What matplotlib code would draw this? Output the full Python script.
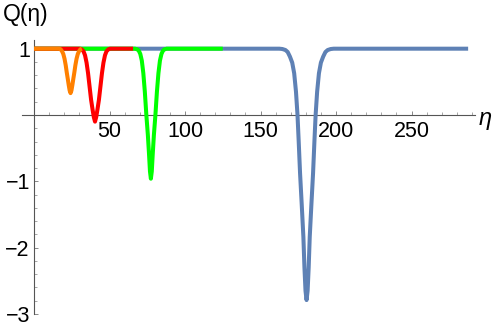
import matplotlib
matplotlib.use("Agg")
import matplotlib.pyplot as plt
from matplotlib.ticker import FixedLocator

plt.rcParams['font.family'] = ['Liberation Sans', 'DejaVu Sans']

# ---- data ----
eta_blue = [0, 162.5, 164.5, 166.5, 168.0, 169.5, 171.0, 172.3, 173.5, 174.5, 175.3, 176.2,
            177.3, 178.4, 179.1, 179.8, 180.5, 181.2, 181.9, 182.6, 183.7, 184.8, 185.7,
            186.5, 187.5, 188.7, 190.0, 191.5, 193.0, 194.5, 196.5, 198.5, 287.5]
q_blue = [1.0, 1.0, 0.995, 0.98, 0.95, 0.88, 0.79, 0.63, 0.35, 0.0, -0.40, -0.88,
          -1.35, -1.84, -2.30, -2.65, -2.79, -2.65, -2.30, -1.84, -1.35, -0.88, -0.40,
          0.0, 0.35, 0.63, 0.79, 0.88, 0.95, 0.98, 0.995, 1.0, 1.0]

eta_green = [0, 66.9, 68.4, 69.4, 70.4, 71.4, 72.4, 73.4, 74.4, 75.4, 76.2, 76.8, 77.4,
             78.0, 78.6, 79.4, 80.4, 81.4, 82.4, 83.4, 84.4, 85.4, 86.4, 87.9, 125.0]
q_green = [1.0, 1.0, 0.99, 0.97, 0.92, 0.82, 0.63, 0.35, 0.0, -0.30, -0.60, -0.85, -0.96,
           -0.85, -0.60, -0.30, 0.0, 0.35, 0.63, 0.82, 0.92, 0.97, 0.99, 1.0, 1.0]

eta_red = [0, 30.4, 31.6, 32.8, 33.8, 34.8, 35.8, 36.8, 37.8, 38.8, 39.6, 40.4,
           41.2, 42.0, 43.0, 44.0, 45.0, 46.0, 47.0, 48.0, 49.2, 50.4, 65.6]
q_red = [1.0, 1.0, 0.99, 0.96, 0.90, 0.79, 0.63, 0.43, 0.23, 0.08, -0.03, -0.10,
         -0.03, 0.08, 0.23, 0.43, 0.63, 0.79, 0.90, 0.96, 0.99, 1.0, 1.0]

eta_orange = [0, 16.7, 17.7, 18.6, 19.4, 20.2, 21.0, 21.7, 22.4, 23.0, 23.6, 24.2,
              24.8, 25.4, 26.0, 26.7, 27.4, 28.2, 29.0, 29.8, 30.7, 31.7]
q_orange = [1.0, 1.0, 0.99, 0.96, 0.92, 0.85, 0.75, 0.64, 0.54, 0.45, 0.37, 0.33,
            0.37, 0.45, 0.54, 0.64, 0.75, 0.85, 0.92, 0.96, 0.99, 1.0]

x_major = [50, 100, 150, 200, 250]
x_minor = [10, 20, 30, 40, 60, 70, 80, 90, 110, 120, 130, 140, 160, 170, 180, 190,
           210, 220, 230, 240, 260, 270, 280, 290]
y_major = [-3, -2, -1, 1]
y_labels = ["\u22123", "\u22122", "\u22121", "1"]
y_minor = [-2.8, -2.6, -2.4, -2.2, -1.8, -1.6, -1.4, -1.2, -0.8, -0.6, -0.4, -0.2,
           0.2, 0.4, 0.6, 0.8]

# ---- figure ----
W, H = 498, 329
fig = plt.figure(figsize=(W / 100, H / 100), dpi=100)
px_left, px_right, px_top, px_bottom = 22, 475, 40, 314
ax = fig.add_axes([px_left / W, 1 - px_bottom / H, (px_right - px_left) / W, (px_bottom - px_top) / H])
ax.set_xlim(-7.95, 292.05)
ax.set_ylim(-3.0, 1.131)

lw = 2.9
kw = dict(lw=lw, solid_joinstyle='round', solid_capstyle='butt', zorder=5, clip_on=False)
ax.plot(eta_blue, q_blue, color='#5E81B5', **kw)
ax.plot(eta_green, q_green, color='#00FF00', **kw)
ax.plot(eta_red, q_red, color='#FF0000', **kw)
ax.plot(eta_orange, q_orange, color='#FF8000', **kw)

for s in ['top', 'right']:
    ax.spines[s].set_visible(False)
ax.spines['left'].set_position(('data', 0))
ax.spines['bottom'].set_position(('data', 0))
for s in ['left', 'bottom']:
    ax.spines[s].set_color('#555555')
    ax.spines[s].set_linewidth(0.8)

ax.xaxis.set_major_locator(FixedLocator(x_major))
ax.xaxis.set_minor_locator(FixedLocator(x_minor))
ax.yaxis.set_major_locator(FixedLocator(y_major))
ax.yaxis.set_minor_locator(FixedLocator(y_minor))
ax.set_xticklabels([str(v) for v in x_major])
ax.set_yticklabels(y_labels)

ax.tick_params(axis='both', which='major', direction='in', length=3.2, width=0.7,
               color='#888888', labelsize=15.5, labelcolor='black')
ax.tick_params(axis='both', which='minor', direction='in', length=2.0, width=0.6,
               color='#999999')
ax.tick_params(axis='x', which='major', pad=4)
ax.tick_params(axis='y', which='major', pad=3)

fig.text(3 / W, 1 - 15 / H, "Q(\u03b7)", fontsize=16.5, ha='left', va='center')
fig.text(479 / W, 1 - 118 / H, "\u03b7", fontsize=17, style='italic', ha='left', va='center')

fig.savefig("out.png", dpi=100)
